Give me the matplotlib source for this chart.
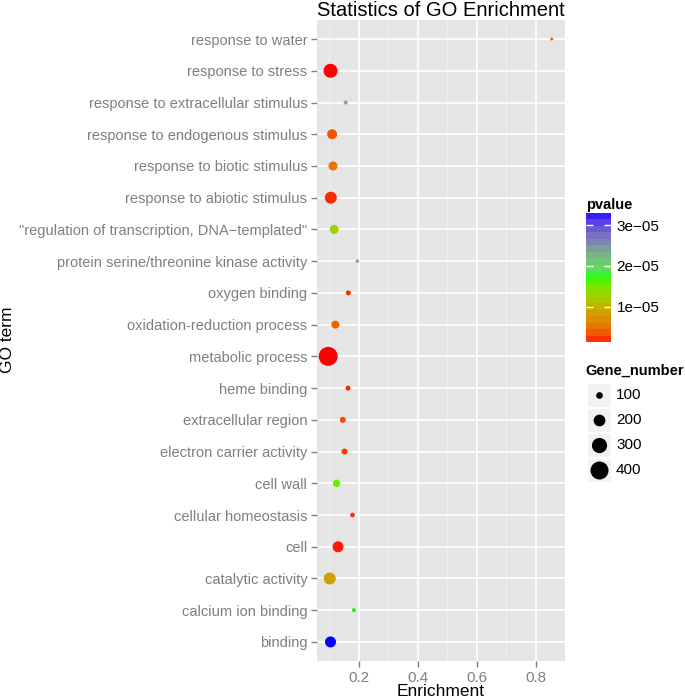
import numpy as np
import matplotlib
matplotlib.use("Agg")
import matplotlib.pyplot as plt
from matplotlib.colors import ListedColormap, Normalize
from matplotlib.patches import Rectangle

plt.rcParams['font.family'] = ['Liberation Sans', 'DejaVu Sans']

# data, listed from bottom to top of the y axis
terms = [
    'binding', 'calcium ion binding', 'catalytic activity', 'cell',
    'cellular homeostasis', 'cell wall', 'electron carrier activity',
    'extracellular region', 'heme binding', 'metabolic process',
    'oxidation-reduction process', 'oxygen binding',
    'protein serine/threonine kinase activity',
    '"regulation of transcription, DNA\u2212templated"',
    'response to abiotic stimulus', 'response to biotic stimulus',
    'response to endogenous stimulus', 'response to extracellular stimulus',
    'response to stress', 'response to water',
]
enrichment = [0.1045, 0.184, 0.102, 0.130, 0.179, 0.125, 0.152, 0.146, 0.164,
              0.0966, 0.121, 0.165, 0.1955, 0.117, 0.1056, 0.113, 0.110,
              0.156, 0.1045, 0.855]
gene_number = [182, 69, 206, 182, 74, 112, 90, 90, 78, 440, 120, 78, 65, 139,
               206, 139, 159, 69, 262, 61]
pvalue = [3.3e-05, 1.72e-05, 8.3e-06, 1.6e-06, 1.9e-06, 1.56e-05, 2.3e-06,
          2.9e-06, 1.9e-06, 1.3e-06, 3.8e-06, 1.9e-06, 2.29e-05, 1.27e-05,
          1.9e-06, 5.1e-06, 3.5e-06, 2.29e-05, 1.3e-06, 3.8e-06]
size_breaks = [100, 200, 300, 400]
p_ticks = [1e-05, 2e-05, 3e-05]
p_tick_labels = ['1e\u221205', '2e\u221205', '3e\u221205']


# colour ramp red -> green -> blue interpolated in CIELAB (like ggplot gradientn)
def srgb_to_lab(rgb):
    rgb = np.asarray(rgb, float)
    lin = np.where(rgb <= 0.04045, rgb / 12.92, ((rgb + 0.055) / 1.055) ** 2.4)
    M = np.array([[0.4124, 0.3576, 0.1805],
                  [0.2126, 0.7152, 0.0722],
                  [0.0193, 0.1192, 0.9505]])
    xyz = lin @ M.T / np.array([0.95047, 1.0, 1.08883])
    f = np.where(xyz > 0.008856, np.cbrt(xyz), 7.787 * xyz + 16 / 116)
    return np.stack([116 * f[..., 1] - 16,
                     500 * (f[..., 0] - f[..., 1]),
                     200 * (f[..., 1] - f[..., 2])], axis=-1)


def lab_to_srgb(lab):
    L, a, b = lab[..., 0], lab[..., 1], lab[..., 2]
    fy = (L + 16) / 116
    fx = fy + a / 500
    fz = fy - b / 200
    f = np.stack([fx, fy, fz], axis=-1)
    xyz = np.where(f ** 3 > 0.008856, f ** 3, (f - 16 / 116) / 7.787)
    xyz = xyz * np.array([0.95047, 1.0, 1.08883])
    Minv = np.array([[3.2406, -1.5372, -0.4986],
                     [-0.9689, 1.8758, 0.0415],
                     [0.0557, -0.2040, 1.0570]])
    lin = np.clip(xyz @ Minv.T, 0, 1)
    rgb = np.where(lin <= 0.0031308, 12.92 * lin, 1.055 * lin ** (1 / 2.4) - 0.055)
    return np.clip(rgb, 0, 1)


anchors = srgb_to_lab([[1, 0, 0], [0, 1, 0], [0, 0, 1]])
t = np.linspace(0, 1, 256)
lab = np.stack([np.interp(t, [0, 0.5, 1], anchors[:, k]) for k in range(3)], axis=-1)
cmap = ListedColormap(lab_to_srgb(lab))

vmin, vmax = min(pvalue), max(pvalue)
norm = Normalize(vmin, vmax)

W, H = 685, 700
fig = plt.figure(figsize=(W / 100, H / 100), dpi=100)


def px_axes(x0, y0, x1, y1):
    return fig.add_axes([x0 / W, 1 - y1 / H, (x1 - x0) / W, (y1 - y0) / H])


def dot_size(n):
    d2 = np.maximum(0.93 * np.asarray(n, float) - 48, 6.0)
    return d2 * 0.72 ** 2


ax = px_axes(317, 20, 565, 661)
ax.set_facecolor('#E5E5E5')
y = np.arange(len(terms))
ax.scatter(enrichment, y, s=dot_size(gene_number), c=pvalue, cmap=cmap,
           norm=norm, linewidths=0, zorder=3)
ax.margins(x=0.05)
ax.set_ylim(-0.6, len(terms) - 0.4)
ax.set_xticks([0.2, 0.4, 0.6, 0.8])
ax.set_xticks([0.1, 0.3, 0.5, 0.7, 0.9], minor=True)
ax.set_yticks(y)
ax.set_yticklabels(terms)
ax.grid(True, which='major', color='white', linewidth=1.2, zorder=1)
ax.grid(True, which='minor', axis='x', color='#F2F2F2', linewidth=0.6, zorder=1)
ax.set_axisbelow(True)
for s in ax.spines.values():
    s.set_visible(False)
ax.tick_params(axis='both', which='major', colors='#7F7F7F', labelsize=10.5,
               length=4, width=1, pad=3)
ax.tick_params(axis='x', which='major', labelsize=11)
ax.tick_params(axis='both', which='minor', length=0)
ax.set_title('Statistics of GO Enrichment', fontsize=14.5, pad=3)
fig.text(441 / W, 1 - 691 / H, 'Enrichment', fontsize=12.5,
         ha='center', va='center')
fig.text(8 / W, 1 - 340 / H, 'GO term', fontsize=12.5, rotation=90,
         ha='center', va='center')

# colour bar (20 bins like ggplot)
cax = px_axes(586, 213, 611, 342)
nb = 20
edges = np.linspace(vmin, vmax, nb + 1)
mids = (edges[:-1] + edges[1:]) / 2
cax.imshow(cmap(norm(mids))[:, None, :], origin='lower', aspect='auto',
           extent=[0, 1, vmin, vmax], interpolation='nearest')
cax.set_xticks([])
cax.set_yticks(p_ticks)
cax.set_yticklabels(p_tick_labels)
cax.yaxis.set_ticks_position('both')
cax.tick_params(axis='y', direction='in', colors='white', length=5, width=1,
                labelleft=False, labelright=True, labelcolor='black',
                labelsize=11, pad=4)
for s in cax.spines.values():
    s.set_visible(False)
fig.text(586 / W, 1 - 205 / H, 'pvalue', fontsize=10.5, fontweight='bold',
         va='center', ha='left')

# size legend
fig.text(585 / W, 1 - 371 / H, 'Gene_number', fontsize=10.5, fontweight='bold',
         va='center', ha='left')
lax = px_axes(580, 382, 685, 482)
lax.set_xlim(580, 685)
lax.set_ylim(482, 382)
lax.axis('off')
for i, n in enumerate(size_breaks):
    cy = 395 + 25 * i
    lax.add_patch(Rectangle((587, cy - 12), 24, 24, facecolor='#F2F2F2',
                            edgecolor='white', linewidth=1))
    lax.scatter([599], [cy], s=dot_size(n), color='black', linewidths=0)
    lax.text(616, cy, str(n), fontsize=11, va='center', ha='left')

fig.savefig('out.png', dpi=100)
